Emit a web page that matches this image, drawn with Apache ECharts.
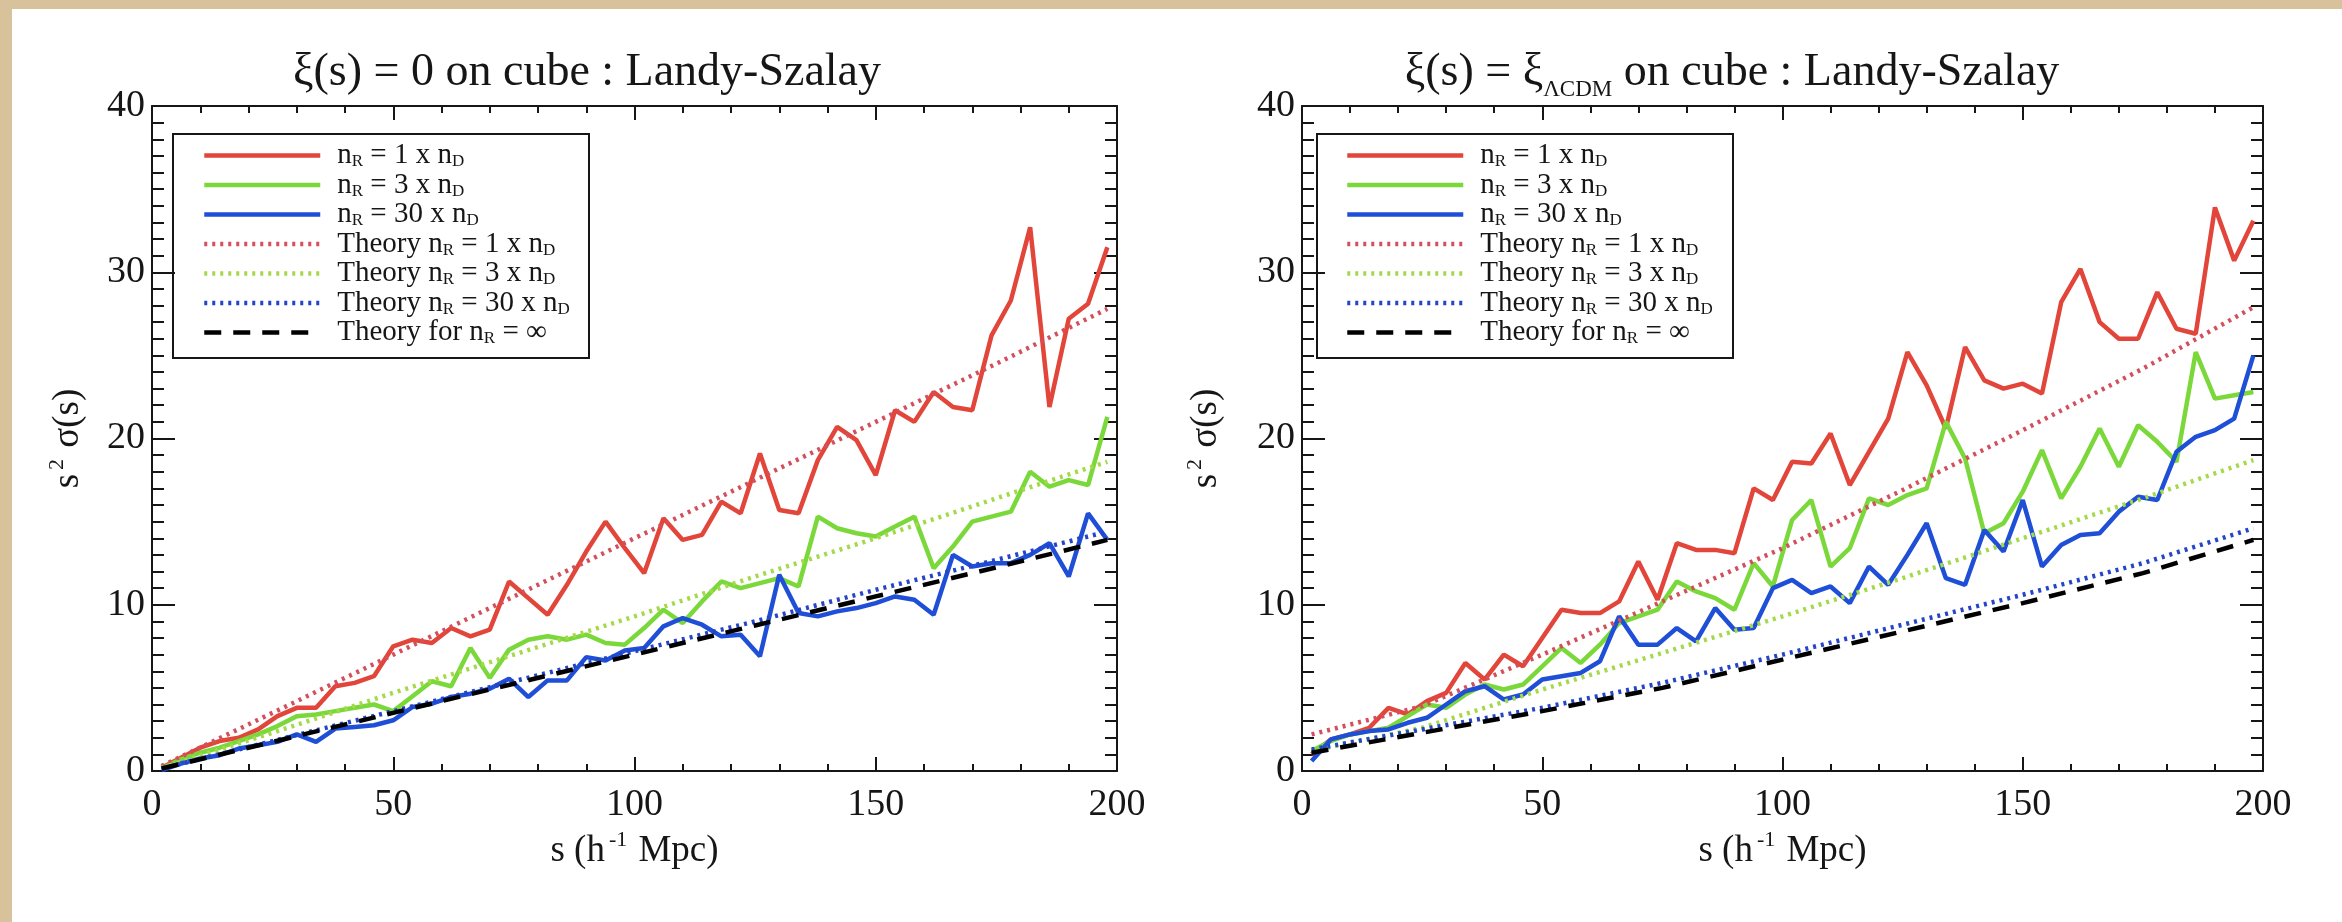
<!DOCTYPE html>
<html><head><meta charset="utf-8">
<script src="https://cdn.jsdelivr.net/npm/echarts@6/dist/echarts.min.js"></script>
<style>
html,body{margin:0;padding:0;width:2342px;height:922px;overflow:hidden;background:#d8c29c;}
#paper{position:absolute;left:12px;top:9px;right:0;bottom:0;background:#fff;}
#chart{position:absolute;left:0;top:0;width:2342px;height:922px;}
</style></head><body>
<div id="paper"></div><div id="chart"></div>
<script>
// ---------- data ----------
const sBins = [2,6,10,14,18,22,26,30,34,38,42,46,50,54,58,62,66,70,74,78,82,86,90,94,98,102,106,110,114,118,122,126,130,134,138,142,146,150,154,158,162,166,170,174,178,182,186,190,194,198];

// Left panel: xi(s) = 0
const L_red   = [0.2,0.8,1.4,1.8,2.0,2.5,3.3,3.8,3.8,5.1, 5.3,5.7,7.5,7.9,7.7,8.6,8.1,8.5,11.4,10.4, 9.4,11.2,13.2,15.0,13.4,11.9,15.2,13.9,14.2,16.2, 15.5,19.1,15.7,15.5,18.7,20.7,19.9,17.8,21.7,21.0, 22.8,21.9,21.7,26.2,28.3,32.7,21.9,27.2,28.1,31.5];
const L_green = [0.15,0.7,1.1,1.4,1.8,2.2,2.7,3.3,3.4,3.6, 3.8,4.0,3.6,4.5,5.4,5.1,7.4,5.6,7.3,7.9, 8.1,7.9,8.2,7.7,7.6,8.6,9.7,8.9,10.2,11.4, 11.0,11.3,11.6,11.1,15.3,14.6,14.3,14.1,14.7,15.3, 12.2,13.5,15.0,15.3,15.6,18.0,17.1,17.5,17.2,21.3];
const L_blue  = [0.05,0.45,0.75,0.95,1.35,1.55,1.75,2.2,1.75,2.55, 2.65,2.75,3.05,3.85,4.05,4.45,4.65,4.95,5.55,4.45, 5.45,5.45,6.85,6.65,7.25,7.4,8.7,9.2,8.8,8.1, 8.2,6.9,11.8,9.5,9.3,9.6,9.8,10.1,10.5,10.3, 9.4,13.0,12.3,12.5,12.5,13.0,13.7,11.7,15.5,13.9];

// Right panel: xi(s) = xi_LCDM
const R_red   = [1.0,1.9,2.2,2.6,3.8,3.4,4.2,4.7,6.5,5.5, 7.0,6.3,8.0,9.7,9.5,9.5,10.2,12.6,10.3,13.7, 13.3,13.3,13.1,17.0,16.3,18.6,18.5,20.3,17.2,19.2, 21.2,25.2,23.2,20.6,25.5,23.5,23.0,23.3,22.7,28.2, 30.2,27.0,26.0,26.0,28.8,26.6,26.3,33.9,30.7,33.1];
const R_green = [1.2,1.8,2.2,2.4,2.6,3.3,4.0,3.8,4.6,5.2, 4.9,5.2,6.3,7.4,6.5,7.6,8.9,9.3,9.7,11.4, 10.8,10.4,9.7,12.5,11.1,15.1,16.3,12.3,13.4,16.4, 16.0,16.6,17.0,21.0,18.8,14.3,14.9,16.8,19.3,16.4, 18.3,20.6,18.3,20.8,19.8,18.6,25.2,22.4,22.6,22.8];
const R_blue  = [0.6,1.9,2.2,2.4,2.5,2.9,3.2,4.0,4.8,5.1, 4.3,4.6,5.5,5.7,5.9,6.6,9.3,7.6,7.6,8.6, 7.8,9.8,8.5,8.6,11.0,11.5,10.7,11.1,10.1,12.3, 11.2,13.0,14.9,11.6,11.2,14.5,13.2,16.3,12.3,13.6, 14.2,14.3,15.6,16.5,16.3,19.2,20.1,20.5,21.2,25.0];

// Theory curves (read at these s values)
const thS = [2,25,50,75,100,125,150,175,198];
const L_thRed   = [0.3,3.5,7.0,10.5,14.0,17.5,21.0,24.5,27.8];
const L_thGreen = [0.2,2.3,4.7,7.0,9.3,11.7,14.0,16.4,18.6];
const L_thBlue  = [0.15,1.8,3.6,5.4,7.2,9.0,10.9,12.7,14.4];
const L_thInf   = [0.15,1.75,3.5,5.25,7.0,8.75,10.5,12.25,13.9];
const R_thRed   = [2.2,3.9,7.0,10.2,13.4,16.9,20.5,24.2,27.9];
const R_thGreen = [1.2,2.6,4.9,7.1,9.3,11.6,14.0,16.4,18.7];
const R_thBlue  = [1.3,2.5,3.8,5.3,7.0,8.8,10.6,12.5,14.6];
const R_thInf   = [1.1,2.3,3.6,5.0,6.7,8.4,10.1,11.9,13.9];

const seriesNames = ['n_R = 1 x n_D','n_R = 3 x n_D','n_R = 30 x n_D','Theory n_R = 1 x n_D','Theory n_R = 3 x n_D','Theory n_R = 30 x n_D','Theory for n_R = \u221E'];
const xTicks = [0,50,100,150,200];
const yTicks = [0,10,20,30,40];
const titles = ['{t|\u03BE(s) = 0 on cube : Landy-Szalay}', '{t|\u03BE(s) = \u03BE}{sub|\u039BCDM}{t| on cube : Landy-Szalay}'];

// ---------- styling ----------
const FONT = "'Liberation Serif','Times New Roman',Times,serif";
const INK = '#161616';
const C = {red:'#e2463b', green:'#7bd83a', blue:'#1e4fd6', tRed:'#d44f5c', tGreen:'#a4d94a', tBlue:'#2445c8', inf:'#000000'};
const DOT = [3,5], DASH = [17,12];
const LW = 4.5;

function pairs(xs, ys){ return xs.map((s,i)=>[s, ys[i]]); }
function toRich(str){
  let out = '', buf = '';
  for (let i=0;i<str.length;i++){
    if (str[i]==='_' && i+1<str.length){
      if (buf) out += '{t|'+buf+'}'; buf='';
      out += '{sub|'+str[i+1]+'}'; i++;
    } else buf += str[i];
  }
  if (buf) out += '{t|'+buf+'}';
  return '{sp|}' + out;
}
const legendRich = {
  sp:{width:12, height:30},
  t:{fontSize:29, fontFamily:FONT, color:INK, lineHeight:30},
  sub:{fontSize:17, fontFamily:FONT, color:INK, lineHeight:6, verticalAlign:'bottom'}
};
const axisNameRich = {
  t:{fontSize:37, fontFamily:FONT, color:INK, lineHeight:44},
  sup:{fontSize:22, fontFamily:FONT, color:INK, lineHeight:30, verticalAlign:'top', padding:[0,2,0,4]}
};

const grids = [
  {left:152, top:106, width:965, height:665},
  {left:1302, top:106, width:961, height:665}
];

function xAx(g, pos, labeled){
  return {
    gridIndex:g, type:'value', position:pos, min:xTicks[0], max:xTicks[xTicks.length-1], interval:xTicks[1]-xTicks[0],
    axisLine:{show:true, onZero:false, lineStyle:{color:INK, width:2}},
    axisTick:{show:true, inside:true, length:14, lineStyle:{color:INK, width:2}},
    minorTick:{show:true, splitNumber:5, length:7, lineStyle:{color:INK, width:2}},
    splitLine:{show:false}, minorSplitLine:{show:false},
    axisLabel:{show:labeled, fontSize:38, fontFamily:FONT, color:INK, margin:15},
    name: labeled ? '{t|s (h}{sup|-1}{t| Mpc)}' : '',
    nameLocation:'middle', nameGap:58,
    nameTextStyle:{rich:axisNameRich}
  };
}
function yAx(g, pos, labeled, gap){
  return {
    gridIndex:g, type:'value', position:pos, min:yTicks[0], max:yTicks[yTicks.length-1], interval:yTicks[1]-yTicks[0],
    axisLine:{show:true, onZero:false, lineStyle:{color:INK, width:2}},
    axisTick:{show:true, inside:true, length:23, lineStyle:{color:INK, width:2}},
    minorTick:{show:true, splitNumber:10, length:12, lineStyle:{color:INK, width:2}},
    splitLine:{show:false}, minorSplitLine:{show:false},
    axisLabel:{show:labeled, fontSize:38, fontFamily:FONT, color:INK, margin:7},
    name: labeled ? '{t|s}{sup|2}{t| \u03C3(s)}' : '',
    nameLocation:'middle', nameGap:gap, nameRotate:90,
    nameTextStyle:{rich:axisNameRich}
  };
}

function line(name, xs, ys, color, type, xi, yi, z){
  return {type:'line', name, xAxisIndex:xi, yAxisIndex:yi, data:pairs(xs, ys), symbol:'none',
    lineStyle:{color, width:LW, type, cap:'butt'}, itemStyle:{color}, z, silent:true, animation:false};
}
function panel(xi, yi, red, green, blue, tr, tg, tb, ti){
  return [
    line(seriesNames[0], sBins, red,   C.red,   'solid', xi, yi, 2),
    line(seriesNames[1], sBins, green, C.green, 'solid', xi, yi, 2),
    line(seriesNames[2], sBins, blue,  C.blue,  'solid', xi, yi, 2),
    line(seriesNames[3], thS, tr, C.tRed,   DOT, xi, yi, 3),
    line(seriesNames[4], thS, tg, C.tGreen, DOT, xi, yi, 3),
    line(seriesNames[5], thS, tb, C.tBlue,  DOT, xi, yi, 3),
    line(seriesNames[6], thS, ti, C.inf,    DASH, xi, yi, 4)
  ];
}
function legend(left){
  return {
    orient:'vertical', left, top:141, padding:0, itemGap:0, itemWidth:116, itemHeight:14,
    data:seriesNames, selectedMode:false,
    itemStyle:{color:'rgba(0,0,0,0)', borderColor:'rgba(0,0,0,0)', borderWidth:0, opacity:0},
    lineStyle:{width:LW},
    formatter:(n)=>toRich(n),
    textStyle:{fontSize:29, fontFamily:FONT, color:INK, rich:legendRich}
  };
}

const chart = echarts.init(document.getElementById('chart'), null, {renderer:'canvas'});
chart.setOption({
  animation:false,
  backgroundColor:'transparent',
  grid: grids.map(g=>Object.assign({outerBoundsMode:'none', containLabel:false}, g)),
  xAxis:[xAx(0,'bottom',true), xAx(0,'top',false), xAx(1,'bottom',true), xAx(1,'top',false)],
  yAxis:[yAx(0,'left',true,62), yAx(0,'right',false,0), yAx(1,'left',true,74), yAx(1,'right',false,0)],
  legend:[legend(202), legend(1345)],
  graphic:[
    {type:'rect', shape:{x:173, y:134, width:416, height:224}, style:{fill:'none', stroke:INK, lineWidth:2}, z:10},
    {type:'rect', shape:{x:1317, y:134, width:416, height:224}, style:{fill:'none', stroke:INK, lineWidth:2}, z:10},
    {type:'text', x:587, y:73, style:{text:titles[0], align:'center', verticalAlign:'middle',
      rich:{t:{fontSize:46, fontFamily:FONT, fill:INK, lineHeight:56}}}},
    {type:'text', x:1732, y:73, style:{text:titles[1], align:'center', verticalAlign:'middle',
      rich:{t:{fontSize:46, fontFamily:FONT, fill:INK, lineHeight:56},
            sub:{fontSize:23, fontFamily:FONT, fill:INK, lineHeight:18, verticalAlign:'bottom'}}}}
  ],
  series:[].concat(
    panel(0,0, L_red, L_green, L_blue, L_thRed, L_thGreen, L_thBlue, L_thInf),
    panel(2,2, R_red, R_green, R_blue, R_thRed, R_thGreen, R_thBlue, R_thInf)
  )
});
</script>
</body></html>
